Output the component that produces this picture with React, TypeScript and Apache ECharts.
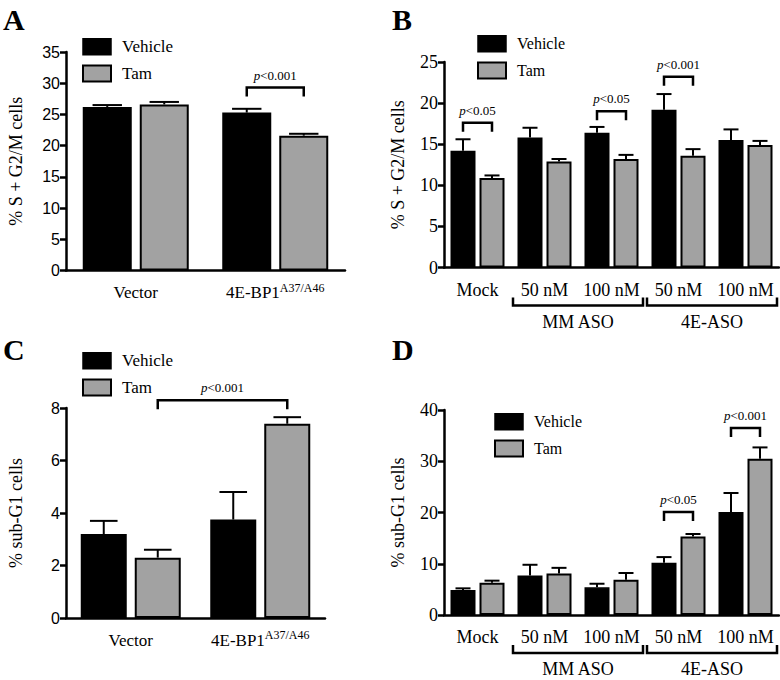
import React, { useEffect, useRef } from 'react';
import * as echarts from 'echarts';

const SERIF = "'Liberation Serif', 'Times New Roman', serif";
const SANS = "'Liberation Sans', Arial, sans-serif";
const GRAY = '#a2a2a2';
const seriesNames = ['Vehicle', 'Tam'];

// ---------- Panel A ----------
const catsA = ['Vector', '4E-BP1'];
const supA = ['', 'A37/A46'];
const vehicleA = [26.2, 25.3];
const vehicleErrA = [0.3, 0.6];
const tamA = [26.6, 21.6];
const tamErrA = [0.4, 0.3];
const yTicksA = [0, 5, 10, 15, 20, 25, 30, 35];
const sigA = [{ from: [1, 0], to: [1, 1], y: 29.3, label: '<0.001' }];

// ---------- Panel B ----------
const catsB = ['Mock', '50 nM', '100 nM', '50 nM', '100 nM'];
const groupsB = [
  { label: 'MM ASO', from: 1, to: 2 },
  { label: '4E-ASO', from: 3, to: 4 },
];
const vehicleB = [14.2, 15.8, 16.4, 19.2, 15.5];
const vehicleErrB = [1.4, 1.2, 0.7, 1.9, 1.3];
const tamB = [10.9, 12.9, 13.2, 13.6, 14.9];
const tamErrB = [0.3, 0.3, 0.5, 0.8, 0.5];
const yTicksB = [0, 5, 10, 15, 20, 25];
const sigB = [
  { from: [0, 0], to: [0, 1], y: 17.6, label: '<0.05' },
  { from: [2, 0], to: [2, 1], y: 19.0, label: '<0.05' },
  { from: [3, 0], to: [3, 1], y: 23.2, label: '<0.001' },
];

// ---------- Panel C ----------
const catsC = ['Vector', '4E-BP1'];
const supC = ['', 'A37/A46'];
const vehicleC = [3.2, 3.75];
const vehicleErrC = [0.5, 1.05];
const tamC = [2.3, 7.4];
const tamErrC = [0.3, 0.25];
const yTicksC = [0, 2, 4, 6, 8];
const sigC = [{ from: [0, 1], to: [1, 1], y: 8.3, label: '<0.001' }];

// ---------- Panel D ----------
const catsD = ['Mock', '50 nM', '100 nM', '50 nM', '100 nM'];
const groupsD = [
  { label: 'MM ASO', from: 1, to: 2 },
  { label: '4E-ASO', from: 3, to: 4 },
];
const vehicleD = [4.9, 7.7, 5.4, 10.2, 20.1];
const vehicleErrD = [0.3, 2.1, 0.7, 1.1, 3.7];
const tamD = [6.3, 8.1, 6.9, 15.3, 30.5];
const tamErrD = [0.4, 1.1, 1.3, 0.5, 2.2];
const yTicksD = [0, 10, 20, 30, 40];
const sigD = [
  { from: [3, 0], to: [3, 1], y: 20.1, label: '<0.05' },
  { from: [4, 0], to: [4, 1], y: 36.5, label: '<0.001' },
];

type Panel = {
  letter: string;
  letterPos: [number, number];
  grid: { left: number; top: number; width: number; height: number };
  cats: string[];
  sup?: string[];
  vehicle: number[];
  vehicleErr: number[];
  tam: number[];
  tamErr: number[];
  yTicks: number[];
  sig: { from: number[]; to: number[]; y: number; label: string }[];
  groups?: { label: string; from: number; to: number }[];
  yName: string;
  nameGap: number;
  barW: number;
  gap: number;
  tickFont: string;
  tickSize: number;
  catSize: number;
  legendPos: [number, number];
  legendSize: number;
};

const panels: Panel[] = [
  {
    letter: 'A', letterPos: [3, 4],
    grid: { left: 66, top: 52, width: 279, height: 218.5 },
    cats: catsA, sup: supA, vehicle: vehicleA, vehicleErr: vehicleErrA, tam: tamA, tamErr: tamErrA,
    yTicks: yTicksA, sig: sigA, yName: '% S + G2/M cells', nameGap: 41,
    barW: 49, gap: 8, tickFont: SANS, tickSize: 16, catSize: 17, legendPos: [82, 38], legendSize: 17,
  },
  {
    letter: 'B', letterPos: [392, 4],
    grid: { left: 444, top: 62, width: 335, height: 205.5 },
    cats: catsB, vehicle: vehicleB, vehicleErr: vehicleErrB, tam: tamB, tamErr: tamErrB,
    yTicks: yTicksB, sig: sigB, groups: groupsB, yName: '% S + G2/M cells', nameGap: 37,
    barW: 25, gap: 4, tickFont: SERIF, tickSize: 18, catSize: 18, legendPos: [477, 35], legendSize: 16,
  },
  {
    letter: 'C', letterPos: [3, 334],
    grid: { left: 66, top: 408, width: 259, height: 210 },
    cats: catsC, sup: supC, vehicle: vehicleC, vehicleErr: vehicleErrC, tam: tamC, tamErr: tamErrC,
    yTicks: yTicksC, sig: sigC, yName: '% sub-G1 cells', nameGap: 41,
    barW: 46, gap: 8, tickFont: SANS, tickSize: 16, catSize: 17, legendPos: [82, 352], legendSize: 17,
  },
  {
    letter: 'D', letterPos: [392, 334],
    grid: { left: 444, top: 410, width: 335, height: 205 },
    cats: catsD, vehicle: vehicleD, vehicleErr: vehicleErrD, tam: tamD, tamErr: tamErrD,
    yTicks: yTicksD, sig: sigD, groups: groupsD, yName: '% sub-G1 cells', nameGap: 37,
    barW: 25, gap: 4, tickFont: SERIF, tickSize: 18, catSize: 18, legendPos: [494, 413], legendSize: 16,
  },
];

function buildOption() {
  const grid: any[] = [];
  const xAxis: any[] = [];
  const yAxis: any[] = [];
  const series: any[] = [];
  const legend: any[] = [];
  const graphic: any[] = [];

  panels.forEach((p, idx) => {
    grid.push({ ...p.grid, containLabel: false });
    const sup = p.sup;
    xAxis.push({
      type: 'category',
      gridIndex: idx,
      data: p.cats,
      axisLine: { lineStyle: { color: '#000', width: 2.5 } },
      axisTick: { alignWithLabel: true, length: 7, lineStyle: { color: '#000', width: 2.5 } },
      axisLabel: {
        color: '#000',
        fontFamily: SERIF,
        fontSize: p.catSize,
        margin: 11,
        interval: 0,
        lineHeight: 22,
        formatter: (v: string, i: number) => (sup && sup[i] ? `${v}{sup|${sup[i]}}` : v),
        rich: {
          sup: { fontFamily: SERIF, fontSize: 12, verticalAlign: 'top', lineHeight: 12, color: '#000' },
        },
      },
    });
    const t = p.yTicks;
    yAxis.push({
      type: 'value',
      gridIndex: idx,
      min: t[0],
      max: t[t.length - 1],
      interval: t[1] - t[0],
      name: p.yName,
      nameLocation: 'middle',
      nameRotate: 90,
      nameGap: p.nameGap,
      nameTextStyle: { fontFamily: SERIF, fontSize: 18, color: '#000' },
      axisLine: { show: true, lineStyle: { color: '#000', width: 2.5 } },
      axisTick: { show: true, length: 6, lineStyle: { color: '#000', width: 2.5 } },
      axisLabel: { color: '#000', fontFamily: p.tickFont, fontSize: p.tickSize, margin: 6 },
      splitLine: { show: false },
    });

    const gapPct = `${(p.gap / p.barW) * 100}%`;
    series.push({
      type: 'bar',
      name: seriesNames[0],
      xAxisIndex: idx,
      yAxisIndex: idx,
      data: p.vehicle,
      barWidth: p.barW,
      barGap: gapPct,
      itemStyle: { color: '#000', borderColor: '#000', borderWidth: 1.5 },
      z: 2,
    });
    series.push({
      type: 'bar',
      name: seriesNames[1],
      xAxisIndex: idx,
      yAxisIndex: idx,
      data: p.tam,
      barWidth: p.barW,
      barGap: gapPct,
      itemStyle: { color: GRAY, borderColor: '#000', borderWidth: 2 },
      z: 2,
    });

    const off = (p.barW + p.gap) / 2;
    const cap = p.barW * 0.6;
    const errSeries = (vals: number[], errs: number[], side: number) => ({
      type: 'custom',
      xAxisIndex: idx,
      yAxisIndex: idx,
      z: 3,
      clip: false,
      silent: true,
      data: vals.map((v, i) => [i, v, v + errs[i]]),
      renderItem: (params: any, api: any) => {
        const i = api.value(0);
        const base = api.coord([i, api.value(1)]);
        const top = api.coord([i, api.value(2)]);
        const x = base[0] + side * off;
        return {
          type: 'group',
          children: [
            { type: 'line', shape: { x1: x, y1: base[1], x2: x, y2: top[1] }, style: { stroke: '#000', lineWidth: 2 } },
            { type: 'line', shape: { x1: x - cap / 2, y1: top[1], x2: x + cap / 2, y2: top[1] }, style: { stroke: '#000', lineWidth: 2 } },
          ],
        };
      },
    });
    series.push(errSeries(p.vehicle, p.vehicleErr, -1));
    series.push(errSeries(p.tam, p.tamErr, 1));

    const sig = p.sig;
    series.push({
      type: 'custom',
      xAxisIndex: idx,
      yAxisIndex: idx,
      z: 4,
      clip: false,
      silent: true,
      data: sig.map((s) => [s.from[0], s.from[1], s.to[0], s.to[1], s.y]),
      renderItem: (params: any, api: any) => {
        const c1 = api.coord([api.value(0), api.value(4)]);
        const c2 = api.coord([api.value(2), api.value(4)]);
        const x1 = c1[0] + (api.value(1) === 0 ? -off : off);
        const x2 = c2[0] + (api.value(3) === 0 ? -off : off);
        const y = c1[1];
        const label = sig[params.dataIndex].label;
        return {
          type: 'group',
          children: [
            {
              type: 'polyline',
              shape: { points: [[x1, y + 9], [x1, y], [x2, y], [x2, y + 9]] },
              style: { stroke: '#000', lineWidth: 2.5, fill: 'none' },
            },
            {
              type: 'text',
              style: {
                x: (x1 + x2) / 2,
                y: y - 6,
                text: `{i|p}{n|${label}}`,
                align: 'center',
                verticalAlign: 'bottom',
                fill: '#000',
                rich: {
                  i: { fontFamily: SERIF, fontSize: 13, fontStyle: 'italic', fill: '#000' },
                  n: { fontFamily: SERIF, fontSize: 13, fill: '#000' },
                },
              },
            },
          ],
        };
      },
    });

    if (p.groups) {
      const groups = p.groups;
      series.push({
        type: 'custom',
        xAxisIndex: idx,
        yAxisIndex: idx,
        z: 4,
        clip: false,
        silent: true,
        data: groups.map((g) => [g.from, g.to, 0]),
        renderItem: (params: any, api: any) => {
          const a = api.coord([api.value(0), 0]);
          const b = api.coord([api.value(1), 0]);
          const half = api.size([1, 0])[0] / 2;
          const xa = a[0] - half + 2;
          const xb = b[0] + half - 2;
          const y0 = a[1];
          return {
            type: 'group',
            children: [
              {
                type: 'polyline',
                shape: { points: [[xa, y0 + 30], [xa, y0 + 38], [xb, y0 + 38], [xb, y0 + 30]] },
                style: { stroke: '#000', lineWidth: 2.5, fill: 'none' },
              },
              {
                type: 'text',
                style: {
                  x: (xa + xb) / 2,
                  y: y0 + 45,
                  text: groups[params.dataIndex].label,
                  align: 'center',
                  verticalAlign: 'top',
                  fill: '#000',
                  fontFamily: SERIF,
                  fontSize: 18,
                },
              },
            ],
          };
        },
      });
    }

    legend.push({
      left: p.legendPos[0],
      top: p.legendPos[1],
      padding: 0,
      orient: 'vertical',
      selectedMode: false,
      itemWidth: 28,
      itemHeight: 16,
      itemGap: 9,
      icon: 'rect',
      textStyle: { fontFamily: SERIF, fontSize: p.legendSize, color: '#000', padding: [0, 0, 0, 6] },
      data: [
        { name: seriesNames[0], itemStyle: { color: '#000', borderColor: '#000', borderWidth: 1.5 } },
        { name: seriesNames[1], itemStyle: { color: GRAY, borderColor: '#000', borderWidth: 2 } },
      ],
    });

    graphic.push({
      type: 'text',
      left: p.letterPos[0],
      top: p.letterPos[1],
      style: { text: p.letter, fill: '#000', font: `bold 30px ${SERIF}` },
    });
  });

  return { animation: false, backgroundColor: '#fff', grid, xAxis, yAxis, series, legend, graphic };
}

export default function App() {
  const ref = useRef<HTMLDivElement>(null);
  useEffect(() => {
    if (!ref.current) return;
    const chart = echarts.init(ref.current, undefined, { renderer: 'svg' });
    chart.setOption(buildOption() as any);
    return () => chart.dispose();
  }, []);
  return (
    <div
      ref={ref}
      style={{ position: 'fixed', left: 0, top: 0, width: 780, height: 680, background: '#fff' }}
    />
  );
}
